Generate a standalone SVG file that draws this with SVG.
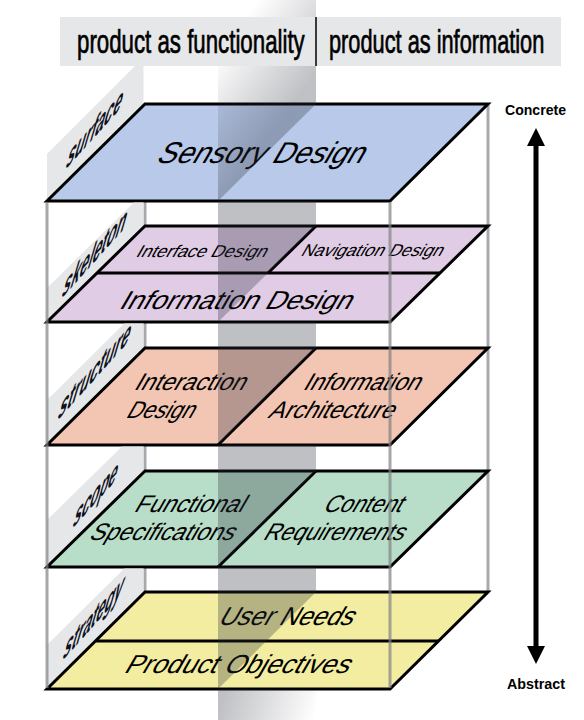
<svg xmlns="http://www.w3.org/2000/svg" width="584" height="720" viewBox="0 0 584 720">
<defs>
<style>
.hdr{font-family:"Liberation Sans",Arial,sans-serif;font-size:33px;fill:#000;stroke:#000;stroke-width:0.7}
.axis{font-family:"Liberation Sans",Arial,sans-serif;font-weight:bold;font-size:15px;fill:#000}
.side{font-family:"Liberation Sans",Arial,sans-serif;font-weight:bold;font-style:italic;font-size:26px;fill:#0d1020}
.pl{font-family:"Liberation Sans",Arial,sans-serif;fill:#000;text-anchor:middle}
.panel{fill:#e6e7e8}
.plane{stroke:#000;stroke-width:3;stroke-linejoin:miter}
.div{stroke:#000;stroke-width:3;fill:none}
.bpost{stroke:#a7a9ac;stroke-width:3}
.fpost{stroke:#808285;stroke-width:3;stroke-opacity:0.7}
.shade{fill:#2b2f3a;fill-opacity:0.3}
</style>
<linearGradient id="bandTop" gradientUnits="userSpaceOnUse" x1="228" y1="40" x2="300" y2="95">
<stop offset="0" stop-color="#2b2f3a" stop-opacity="0"/>
<stop offset="1" stop-color="#2b2f3a" stop-opacity="0.3"/>
</linearGradient>
<linearGradient id="bandBot" gradientUnits="userSpaceOnUse" x1="225" y1="689" x2="316" y2="715">
<stop offset="0" stop-color="#2b2f3a" stop-opacity="0.3"/>
<stop offset="1" stop-color="#2b2f3a" stop-opacity="0"/>
</linearGradient>
<marker id="head" viewBox="0 0 18 18" markerWidth="18" markerHeight="18" refX="0" refY="9" orient="auto-start-reverse" markerUnits="userSpaceOnUse">
<path d="M0,0 L18,9 L0,18 z" fill="#000"/>
</marker>
</defs>
<rect width="584" height="720" fill="#fff"/>

<g id="back-posts">
<line class="bpost" x1="145" y1="104" x2="145" y2="592"/>
<line class="bpost" x1="488" y1="104" x2="488" y2="592"/>
</g>

<g id="surface">
<polygon class="panel" points="47,201 47,154 143.5,57.5 143.5,104"/>
<text class="side" transform="translate(65,170) skewY(-48) skewX(-18)" textLength="55" lengthAdjust="spacingAndGlyphs">surface</text>
<polygon class="plane" fill="#b8c9e9" points="145,104 488,104 390,201 47,201"/>
<text class="pl" font-size="30" transform="translate(258,163) skewX(-30)" textLength="206" lengthAdjust="spacingAndGlyphs">Sensory Design</text>
</g>

<g id="skeleton">
<polygon class="panel" points="47,322 47,288 133.8,202.5 143.5,202.5 143.5,226"/>
<text class="side" transform="translate(61,299) skewY(-48) skewX(-18)" textLength="63" lengthAdjust="spacingAndGlyphs">skeleton</text>
<polygon class="plane" fill="#e0cce5" points="145,226 488,226 390,322 47,322"/>
<line class="div" x1="97" y1="273" x2="440" y2="273"/>
<line class="div" x1="316" y1="226" x2="268" y2="273"/>
<text class="pl" font-size="17" transform="translate(200,257) skewX(-30)" textLength="130" lengthAdjust="spacingAndGlyphs">Interface Design</text>
<text class="pl" font-size="17" transform="translate(370.5,256) skewX(-30)" textLength="141" lengthAdjust="spacingAndGlyphs">Navigation Design</text>
<text class="pl" font-size="26" transform="translate(233.6,309) skewX(-30)" textLength="231" lengthAdjust="spacingAndGlyphs">Information Design</text>
</g>

<g id="structure">
<polygon class="panel" points="47,445 47,400 124.3,323.5 143.5,323.5 143.5,348"/>
<text class="side" transform="translate(57,421) skewY(-48) skewX(-18)" textLength="71" lengthAdjust="spacingAndGlyphs">structure</text>
<polygon class="plane" fill="#f3c5b3" points="145,348 488,348 390,445 47,445"/>
<line class="div" x1="316" y1="348" x2="218" y2="445"/>
<text class="pl" font-size="24" transform="translate(188,390) skewX(-30)" textLength="110" lengthAdjust="spacingAndGlyphs">Interaction</text>
<text class="pl" font-size="24" transform="translate(158.5,418) skewX(-30)" textLength="67" lengthAdjust="spacingAndGlyphs">Design</text>
<text class="pl" font-size="24" transform="translate(360,390) skewX(-30)" textLength="116" lengthAdjust="spacingAndGlyphs">Information</text>
<text class="pl" font-size="24" transform="translate(329.5,418) skewX(-30)" textLength="125" lengthAdjust="spacingAndGlyphs">Architecture</text>
</g>

<g id="scope">
<polygon class="panel" points="47,567 47,520 122,446.5 143.5,446.5 143.5,471"/>
<text class="side" transform="translate(72,529) skewY(-48) skewX(-18)" textLength="43" lengthAdjust="spacingAndGlyphs">scope</text>
<polygon class="plane" fill="#b8dec9" points="145,471 488,471 390,567 47,567"/>
<line class="div" x1="316" y1="471" x2="218" y2="567"/>
<text class="pl" font-size="24" transform="translate(187.5,512) skewX(-30)" textLength="109" lengthAdjust="spacingAndGlyphs">Functional</text>
<text class="pl" font-size="24" transform="translate(160,540) skewX(-30)" textLength="144" lengthAdjust="spacingAndGlyphs">Specifications</text>
<text class="pl" font-size="24" transform="translate(361,512) skewX(-30)" textLength="78" lengthAdjust="spacingAndGlyphs">Content</text>
<text class="pl" font-size="24" transform="translate(332,540) skewX(-30)" textLength="140" lengthAdjust="spacingAndGlyphs">Requirements</text>
</g>

<g id="strategy">
<polygon class="panel" points="47,689 47,645 124.3,568.5 143.5,568.5 143.5,592"/>
<text class="side" transform="translate(62,661) skewY(-48) skewX(-18)" textLength="59" lengthAdjust="spacingAndGlyphs">strategy</text>
<polygon class="plane" fill="#f3eda2" points="145,592 488,592 390,689 47,689"/>
<line class="div" x1="95.5" y1="641" x2="438.5" y2="641"/>
<text class="pl" font-size="26" transform="translate(284,625) skewX(-30)" textLength="134" lengthAdjust="spacingAndGlyphs">User Needs</text>
<text class="pl" font-size="26" transform="translate(235,673) skewX(-30)" textLength="224" lengthAdjust="spacingAndGlyphs">Product Objectives</text>
</g>

<g id="band">
<polygon fill="url(#bandTop)" points="218,0 316,0 316,104 218,201"/>
<polygon class="shade" points="218,201 316,201 316,226 218,322"/>
<polygon class="shade" points="218,322 316,322 316,348 218,445"/>
<polygon class="shade" points="218,445 316,445 316,471 218,567"/>
<polygon class="shade" points="218,567 316,567 316,592 218,689"/>
<polygon fill="url(#bandBot)" points="218,689 316,689 316,720 218,720"/>
</g>

<g id="front-posts">
<line class="fpost" x1="47" y1="202" x2="47" y2="688"/>
<line class="fpost" x1="390" y1="202" x2="390" y2="688"/>
</g>

<g id="header">
<rect x="60" y="17" width="501" height="49" fill="#e6e7e8"/>
<line x1="316" y1="17" x2="316" y2="66" stroke="#000" stroke-width="1.5"/>
<text class="hdr" transform="translate(77,53) scale(0.675,1)">product as functionality</text>
<text class="hdr" transform="translate(329,53) scale(0.66,1)">product as information</text>
</g>

<g id="connectors">
<line x1="536" y1="146" x2="536" y2="646" stroke="#000" stroke-width="5" marker-start="url(#head)" marker-end="url(#head)"/>
</g>

<g id="axis-labels">
<text class="axis" x="505" y="115" textLength="61" lengthAdjust="spacingAndGlyphs">Concrete</text>
<text class="axis" x="507" y="689" textLength="58" lengthAdjust="spacingAndGlyphs">Abstract</text>
</g>
</svg>
